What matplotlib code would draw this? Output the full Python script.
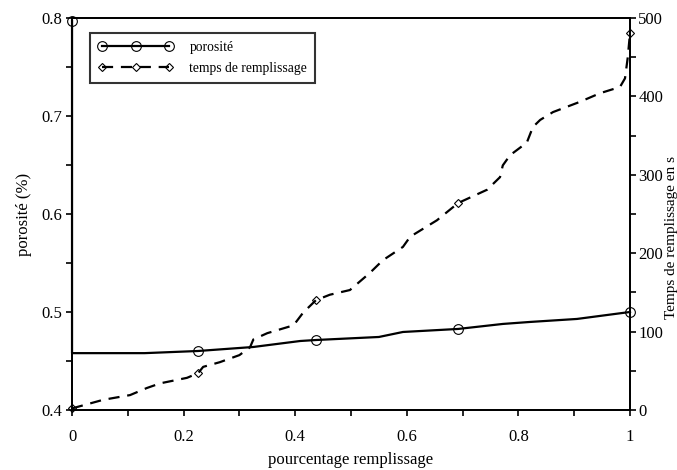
import matplotlib
matplotlib.use('Agg')
import matplotlib.pyplot as plt
from matplotlib.ticker import MultipleLocator

# porosity curve (left axis)
x_poro = [0, 0, 0.13, 0.226, 0.325, 0.409, 0.437, 0.55, 0.593, 0.692, 0.772, 0.82, 0.905, 1.0]
poro = [0.797, 0.458, 0.458, 0.4602, 0.4643, 0.4704, 0.4714, 0.4745, 0.4796, 0.4827, 0.4878, 0.4898, 0.4929, 0.500]
poro_marks = [0, 3, 6, 9, 13]

# filling time curve (right axis)
x_temps = [0, 0.056, 0.104, 0.134, 0.158, 0.206, 0.226, 0.235, 0.265, 0.30, 0.319, 0.325, 0.35,
           0.397, 0.414, 0.437, 0.462, 0.498, 0.534, 0.557, 0.593, 0.606, 0.654, 0.692, 0.744,
           0.767, 0.772, 0.785, 0.815, 0.826, 0.839, 0.862, 0.91, 0.946, 0.982, 0.991, 0.996, 1.0]
temps = [2, 13, 19, 28, 34, 41, 47, 55, 61, 70, 80, 90, 98,
         108, 124, 140, 147, 153, 175, 191, 208, 221, 242, 264, 281,
         297, 312, 325, 341, 361, 370, 380, 393, 404, 412, 423, 450, 481]
temps_marks = [0, 6, 15, 23, 37]

plt.rcParams['font.family'] = ['Liberation Serif', 'DejaVu Serif']
plt.rcParams['font.size'] = 12

fig = plt.figure(figsize=(6.77, 4.70), dpi=100)
ax = fig.add_axes([0.1064, 0.1277, 0.8242, 0.834])
ax2 = ax.twinx()

l1, = ax.plot(x_poro, poro, color='black', lw=1.6, marker='o', markersize=7,
              markerfacecolor='none', markeredgewidth=0.8, markevery=poro_marks,
              clip_on=False, zorder=5, label='porosité')
l2, = ax2.plot(x_temps, temps, color='black', lw=1.6, ls=(0, (5, 3.5)), marker='D',
               markersize=4.5, markerfacecolor='none', markeredgewidth=0.8,
               markevery=temps_marks, clip_on=False, label='temps de remplissage')

ax.set_xlim(0, 1)
ax.set_ylim(0.4, 0.8)
ax2.set_ylim(0, 500)

ax.xaxis.set_major_locator(MultipleLocator(0.2))
ax.xaxis.set_minor_locator(MultipleLocator(0.1))
ax.yaxis.set_major_locator(MultipleLocator(0.1))
ax.yaxis.set_minor_locator(MultipleLocator(0.05))
ax2.yaxis.set_major_locator(MultipleLocator(100))
ax2.yaxis.set_minor_locator(MultipleLocator(50))
ax.xaxis.set_major_formatter(plt.FuncFormatter(lambda v, p: '%g' % v))
ax.yaxis.set_major_formatter(plt.FuncFormatter(lambda v, p: '%g' % v))

for a in (ax, ax2):
    a.tick_params(which='both', direction='out', length=4, width=1.2, pad=3)
    for s in a.spines.values():
        s.set_linewidth(1.3)
ax.tick_params(axis='x', pad=10)
ax2.tick_params(axis='y', pad=2)

ax.set_xlabel('pourcentage remplissage', labelpad=5)
ax.set_ylabel('porosité (%)')
ax.yaxis.set_label_coords(-0.072, 0.5)
ax2.set_ylabel('Temps de remplissage en s', fontsize=11)
ax2.yaxis.set_label_coords(1.062, 0.44)

leg = ax2.legend(handles=[l1, l2], loc='upper left', bbox_to_anchor=(0.02, 0.98),
                 fontsize=9.8, numpoints=3, handlelength=5.5, fancybox=False,
                 borderpad=0.6, labelspacing=0.6, handletextpad=1.2)
leg.get_frame().set_edgecolor('black')
leg.get_frame().set_linewidth(1.5)

fig.savefig('out.png', dpi=100)
